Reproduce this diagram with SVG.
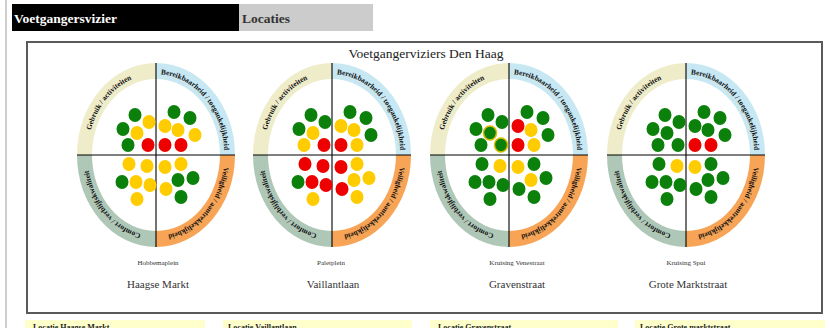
<svg xmlns="http://www.w3.org/2000/svg" width="831" height="328" viewBox="0 0 831 328">
<style>
.g{fill:#0b800b}
.y{fill:#ffcc00}
.r{fill:#ee0000}
.o{fill:#0b800b;stroke:#d6bd00;stroke-width:1.5}
.rl{font-family:"Liberation Serif",serif;font-weight:bold;font-size:7.4px;fill:#111}
.sm{font-family:"Liberation Serif",serif;font-size:7px;fill:#333;text-anchor:middle}
.lg{font-family:"Liberation Serif",serif;font-size:11px;fill:#333;text-anchor:middle}
.bx{fill:#ffffcc}
.bt{font-family:"Liberation Serif",serif;font-weight:bold;font-size:8px;fill:#222}
</style>
<defs>
<ellipse id="d" rx="6.5" ry="7"/>
<g id="ring">
<path fill="#efecc9" d="M0,0 L-79,0 A79 92 0 0 1 0,-92 Z"/>
<path fill="#c7e8f2" d="M0,0 L0,-92 A79 92 0 0 1 79,0 Z"/>
<path fill="#f7a456" d="M0,0 L79,0 A79 92 0 0 1 0,92 Z"/>
<path fill="#afc7b7" d="M0,0 L0,92 A79 92 0 0 1 -79,0 Z"/>
<ellipse rx="64" ry="76" fill="#fff"/>
<path d="M0,-92V92M-79,0H79" stroke="#000" stroke-width="1.1" fill="none"/>
</g>
<path id="pTL" d="M-68.5,0 A68.5 81 0 0 1 0,-81"/>
<path id="pTR" d="M0,-81 A68.5 81 0 0 1 68.5,0"/>
<path id="pBR" d="M68.5,0 A68.5 81 0 0 1 0,81"/>
<path id="pBL" d="M0,81 A68.5 81 0 0 1 -68.5,0"/>
</defs>
<rect width="831" height="328" fill="#fff"/>
<rect x="5" y="0" width="2" height="328" fill="#cfcfcf"/>
<g id="header">
<rect x="12" y="4" width="227" height="27" fill="#000"/>
<rect x="239" y="4" width="134" height="27" fill="#cccccc"/>
<text x="14" y="23" font-family="Liberation Serif, serif" font-weight="bold" font-size="13.5" fill="#fff">Voetgangersvizier</text>
<text x="242" y="23" font-family="Liberation Serif, serif" font-weight="bold" font-size="13.5" fill="#333">Locaties</text>
</g>
<g id="frame">
<rect x="27" y="42" width="795" height="271" fill="#fff" stroke="#5a5a5a" stroke-width="2"/>
<text x="426" y="58" font-family="Liberation Serif, serif" font-size="13.5" fill="#222" text-anchor="middle">Voetgangerviziers Den Haag</text>
</g>
<g id="vizier-haagse-markt" transform="translate(156,155)">
<use href="#ring"/>
<text class="rl" text-anchor="middle"><textPath href="#pTL" startOffset="50%">Gebruik / activiteiten</textPath></text>
<text class="rl" text-anchor="middle"><textPath href="#pTR" startOffset="50%">Bereikbaarheid / toegankelijkheid</textPath></text>
<text class="rl" text-anchor="middle"><textPath href="#pBR" startOffset="50%">Veiligheid / aantrekkelijkheid</textPath></text>
<text class="rl" text-anchor="middle"><textPath href="#pBL" startOffset="50%">Comfort / verblijfskwaliteit</textPath></text>
<use href="#d" class="g" x="-21" y="-40"/><use href="#d" class="y" x="-7" y="-33"/><use href="#d" class="g" x="-33" y="-26"/><use href="#d" class="y" x="-19" y="-22"/><use href="#d" class="g" x="-28" y="-10"/><use href="#d" class="r" x="-8" y="-10"/>
<use href="#d" class="g" x="18" y="-43"/><use href="#d" class="g" x="34" y="-37"/><use href="#d" class="y" x="9" y="-29"/><use href="#d" class="y" x="22" y="-25"/><use href="#d" class="y" x="39" y="-20"/><use href="#d" class="r" x="9" y="-10"/><use href="#d" class="r" x="25" y="-10"/>
<use href="#d" class="y" x="-27" y="9"/><use href="#d" class="y" x="-9" y="11"/><use href="#d" class="g" x="-34" y="27"/><use href="#d" class="y" x="-20" y="27"/><use href="#d" class="y" x="-6" y="30"/><use href="#d" class="y" x="-19" y="44"/>
<use href="#d" class="y" x="9" y="12"/><use href="#d" class="y" x="25" y="9"/><use href="#d" class="g" x="22" y="25"/><use href="#d" class="g" x="37" y="23"/><use href="#d" class="y" x="10" y="34"/><use href="#d" class="g" x="25" y="42"/>
<text class="sm" x="2" y="110">Hobbemaplein</text>
<text class="lg" x="2" y="133">Haagse Markt</text>
</g>
<g id="vizier-vaillantlaan" transform="translate(332,155)">
<use href="#ring"/>
<text class="rl" text-anchor="middle"><textPath href="#pTL" startOffset="50%">Gebruik / activiteiten</textPath></text>
<text class="rl" text-anchor="middle"><textPath href="#pTR" startOffset="50%">Bereikbaarheid / toegankelijkheid</textPath></text>
<text class="rl" text-anchor="middle"><textPath href="#pBR" startOffset="50%">Veiligheid / aantrekkelijkheid</textPath></text>
<text class="rl" text-anchor="middle"><textPath href="#pBL" startOffset="50%">Comfort / verblijfskwaliteit</textPath></text>
<use href="#d" class="g" x="-21" y="-40"/><use href="#d" class="g" x="-7" y="-33"/><use href="#d" class="g" x="-33" y="-26"/><use href="#d" class="y" x="-19" y="-22"/><use href="#d" class="y" x="-28" y="-10"/><use href="#d" class="r" x="-8" y="-10"/>
<use href="#d" class="g" x="18" y="-43"/><use href="#d" class="g" x="34" y="-37"/><use href="#d" class="y" x="9" y="-29"/><use href="#d" class="y" x="22" y="-25"/><use href="#d" class="g" x="39" y="-20"/><use href="#d" class="r" x="9" y="-10"/><use href="#d" class="y" x="25" y="-10"/>
<use href="#d" class="r" x="-27" y="9"/><use href="#d" class="r" x="-9" y="11"/><use href="#d" class="g" x="-34" y="27"/><use href="#d" class="r" x="-20" y="27"/><use href="#d" class="r" x="-6" y="30"/><use href="#d" class="y" x="-19" y="44"/>
<use href="#d" class="r" x="9" y="12"/><use href="#d" class="y" x="25" y="9"/><use href="#d" class="y" x="22" y="25"/><use href="#d" class="y" x="37" y="23"/><use href="#d" class="r" x="10" y="34"/><use href="#d" class="y" x="25" y="42"/>
<text class="sm" x="-1" y="110">Paletplein</text>
<text class="lg" x="1" y="133">Vaillantlaan</text>
</g>
<g id="vizier-gravenstraat" transform="translate(509,155)">
<use href="#ring"/>
<text class="rl" text-anchor="middle"><textPath href="#pTL" startOffset="50%">Gebruik / activiteiten</textPath></text>
<text class="rl" text-anchor="middle"><textPath href="#pTR" startOffset="50%">Bereikbaarheid / toegankelijkheid</textPath></text>
<text class="rl" text-anchor="middle"><textPath href="#pBR" startOffset="50%">Veiligheid / aantrekkelijkheid</textPath></text>
<text class="rl" text-anchor="middle"><textPath href="#pBL" startOffset="50%">Comfort / verblijfskwaliteit</textPath></text>
<use href="#d" class="g" x="-21" y="-40"/><use href="#d" class="g" x="-7" y="-33"/><use href="#d" class="g" x="-33" y="-26"/><use href="#d" class="o" x="-19" y="-22"/><use href="#d" class="g" x="-28" y="-10"/><use href="#d" class="o" x="-8" y="-10"/>
<use href="#d" class="g" x="18" y="-43"/><use href="#d" class="g" x="34" y="-37"/><use href="#d" class="r" x="9" y="-29"/><use href="#d" class="y" x="22" y="-25"/><use href="#d" class="g" x="39" y="-20"/><use href="#d" class="r" x="9" y="-10"/><use href="#d" class="y" x="25" y="-10"/>
<use href="#d" class="g" x="-27" y="9"/><use href="#d" class="y" x="-9" y="11"/><use href="#d" class="g" x="-34" y="27"/><use href="#d" class="g" x="-20" y="27"/><use href="#d" class="g" x="-6" y="30"/><use href="#d" class="g" x="-19" y="44"/>
<use href="#d" class="y" x="9" y="12"/><use href="#d" class="g" x="25" y="9"/><use href="#d" class="y" x="22" y="25"/><use href="#d" class="g" x="37" y="23"/><use href="#d" class="g" x="10" y="34"/><use href="#d" class="g" x="25" y="42"/>
<text class="sm" x="8" y="110">Kruising Venestraat</text>
<text class="lg" x="8" y="133">Gravenstraat</text>
</g>
<g id="vizier-grote-marktstraat" transform="translate(686,155)">
<use href="#ring"/>
<text class="rl" text-anchor="middle"><textPath href="#pTL" startOffset="50%">Gebruik / activiteiten</textPath></text>
<text class="rl" text-anchor="middle"><textPath href="#pTR" startOffset="50%">Bereikbaarheid / toegankelijkheid</textPath></text>
<text class="rl" text-anchor="middle"><textPath href="#pBR" startOffset="50%">Veiligheid / aantrekkelijkheid</textPath></text>
<text class="rl" text-anchor="middle"><textPath href="#pBL" startOffset="50%">Comfort / verblijfskwaliteit</textPath></text>
<use href="#d" class="g" x="-21" y="-40"/><use href="#d" class="g" x="-7" y="-33"/><use href="#d" class="g" x="-33" y="-26"/><use href="#d" class="g" x="-19" y="-22"/><use href="#d" class="g" x="-28" y="-10"/><use href="#d" class="g" x="-8" y="-10"/>
<use href="#d" class="g" x="18" y="-43"/><use href="#d" class="g" x="34" y="-37"/><use href="#d" class="g" x="9" y="-29"/><use href="#d" class="g" x="22" y="-25"/><use href="#d" class="g" x="39" y="-20"/><use href="#d" class="r" x="9" y="-10"/><use href="#d" class="r" x="25" y="-10"/>
<use href="#d" class="g" x="-27" y="9"/><use href="#d" class="y" x="-9" y="11"/><use href="#d" class="g" x="-34" y="27"/><use href="#d" class="g" x="-20" y="27"/><use href="#d" class="g" x="-6" y="30"/><use href="#d" class="g" x="-19" y="44"/>
<use href="#d" class="y" x="9" y="12"/><use href="#d" class="g" x="25" y="9"/><use href="#d" class="g" x="22" y="25"/><use href="#d" class="g" x="37" y="23"/><use href="#d" class="g" x="10" y="34"/><use href="#d" class="g" x="25" y="42"/>
<text class="sm" x="0" y="110">Kruising Spui</text>
<text class="lg" x="2" y="133">Grote Marktstraat</text>
</g>
<g id="locaties">
<rect class="bx" x="25" y="320" width="180" height="12"/>
<text class="bt" x="33" y="330">Locatie Haagse Markt</text>
<rect class="bx" x="223" y="320" width="189" height="12"/>
<text class="bt" x="228" y="330">Locatie Vaillantlaan</text>
<rect class="bx" x="430" y="320" width="188" height="12"/>
<text class="bt" x="438" y="330">Locatie Gravenstraat</text>
<rect class="bx" x="635" y="320" width="190" height="12"/>
<text class="bt" x="640" y="330">Locatie Grote marktstraat</text>
</g>
</svg>
